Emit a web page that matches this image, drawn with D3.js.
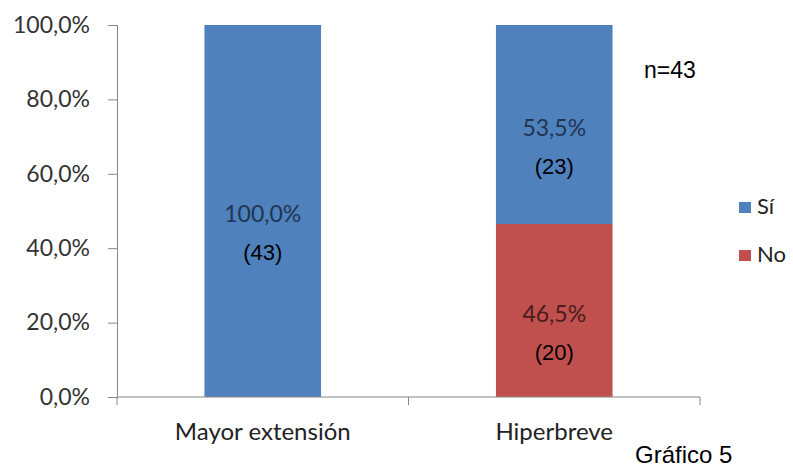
<!DOCTYPE html>
<html>
<head>
<meta charset="utf-8">
<script src="https://cdn.jsdelivr.net/npm/d3@7"></script>
<style>
  body { margin: 0; background: #fff; }
  .tick text { font-family: Lato, "Open Sans", sans-serif; }
</style>
</head>
<body>
<div id="chart"></div>
<script>
// chart data
const categories = ["Mayor extensión", "Hiperbreve"];
const series = ["Sí", "No"];
const siPct = [100.0, 53.5];
const noPct = [0.0, 46.5];
const siCount = [43, 23];
const noCount = [0, 20];
const yTicks = [0, 20, 40, 60, 80, 100];
const colors = ["#4F81BD", "#C0504D"];

const width = 793, height = 468;
const margin = { left: 117, right: 93, top: 25, bottom: 71 };

const svg = d3.select("#chart").append("svg")
    .attr("width", width).attr("height", height);

const x = d3.scaleBand()
    .domain(categories)
    .range([margin.left, width - margin.right])
    .paddingInner(0.6).paddingOuter(0.3);

const y = d3.scaleLinear()
    .domain([0, 100])
    .range([height - margin.bottom, margin.top]);

const fmt = v => v.toFixed(1).replace(".", ",") + "%";

// bars
const rows = categories.map((c, i) => ({ cat: c, si: siPct[i], no: noPct[i], siN: siCount[i], noN: noCount[i] }));
const stack = d3.stack().keys(["si", "no"]).order(d3.stackOrderReverse)(rows);

svg.selectAll("g.layer")
    .data(stack)
    .enter().append("g")
    .attr("fill", (d, i) => colors[i])
    .selectAll("rect")
    .data(d => d)
    .enter().append("rect")
    .attr("x", d => x(d.data.cat))
    .attr("width", x.bandwidth())
    .attr("y", d => y(d[1]))
    .attr("height", d => y(d[0]) - y(d[1]));

// y axis
const yAxis = svg.append("g")
    .attr("transform", `translate(${margin.left},0)`)
    .call(d3.axisLeft(y).tickValues(yTicks).tickSize(9).tickPadding(18).tickFormat(fmt));
yAxis.selectAll("line, path").attr("stroke", "#868686");
yAxis.selectAll("text").style("font-size", "23px").attr("fill", "#333");

// x axis
const xRange = x.range();
const xAxis = svg.append("g").attr("transform", `translate(0,${y(0)})`);
xAxis.append("line")
    .attr("x1", xRange[0]).attr("x2", xRange[1])
    .attr("stroke", "#868686");
[xRange[0], (xRange[0] + xRange[1]) / 2, xRange[1]].forEach(t => {
  xAxis.append("line").attr("x1", t).attr("x2", t).attr("y1", 0).attr("y2", 8).attr("stroke", "#868686");
});
xAxis.selectAll("text.cat")
    .data(categories)
    .enter().append("text")
    .attr("class", "cat")
    .attr("x", d => x(d) + x.bandwidth() / 2)
    .attr("y", 43)
    .attr("text-anchor", "middle")
    .style("font-family", "Lato, 'Open Sans', sans-serif")
    .style("font-size", "24px")
    .attr("fill", "#222")
    .text(d => d);

// value labels
const labels = [];
rows.forEach(r => {
  if (r.si > 0) labels.push({ cat: r.cat, pct: r.si, n: r.siN, mid: r.no + r.si / 2, dark: "#1f3552" });
  if (r.no > 0) labels.push({ cat: r.cat, pct: r.no, n: r.noN, mid: r.no / 2, dark: "#4a1c1b" });
});
const lab = svg.selectAll("g.lab").data(labels).enter().append("g");
lab.append("text")
    .attr("x", d => x(d.cat) + x.bandwidth() / 2)
    .attr("y", d => y(d.mid) + 11)
    .attr("text-anchor", "middle")
    .style("font-family", "Lato, 'Open Sans', sans-serif")
    .style("font-size", "23px")
    .attr("fill", d => d.dark)
    .text(d => fmt(d.pct));
lab.append("text")
    .attr("x", d => x(d.cat) + x.bandwidth() / 2)
    .attr("y", d => y(d.mid) + 49)
    .attr("text-anchor", "middle")
    .style("font-family", "'Liberation Sans', Arial, sans-serif")
    .style("font-size", "22px")
    .attr("fill", "#000")
    .text(d => "(" + d.n + ")");

// legend
const legend = svg.append("g").attr("transform", "translate(739,202)");
series.forEach((s, i) => {
  legend.append("rect").attr("x", 0).attr("y", i * 48).attr("width", 12).attr("height", 11).attr("fill", colors[i]);
  legend.append("text").attr("x", 18).attr("y", i * 48 + 12)
      .style("font-family", "Lato, 'Open Sans', sans-serif")
      .style("font-size", "22px").attr("fill", "#222").text(s);
});

// notes
svg.append("text").attr("x", 644).attr("y", 78)
    .style("font-family", "'Liberation Sans', Arial, sans-serif")
    .style("font-size", "23px").text("n=43");
svg.append("text").attr("x", 635).attr("y", 463)
    .style("font-family", "'Liberation Sans', Arial, sans-serif")
    .style("font-size", "24px").text("Gráfico 5");
</script>
</body>
</html>
